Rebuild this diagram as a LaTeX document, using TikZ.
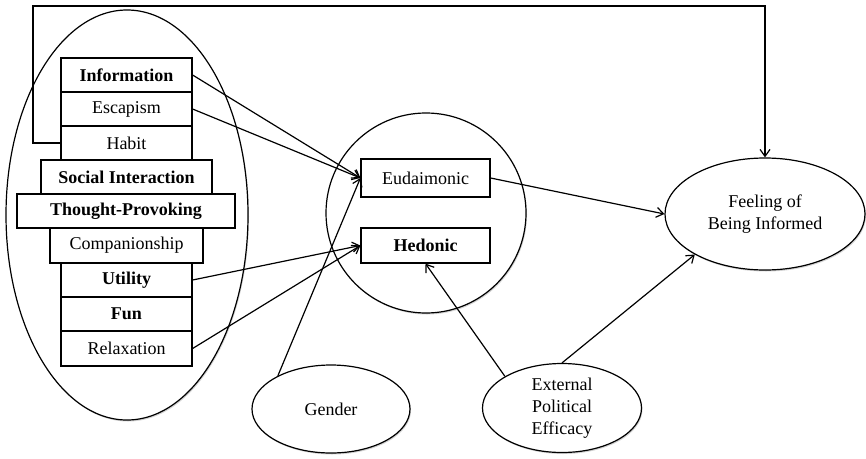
\documentclass[tikz,border=0pt]{standalone}
\usepackage{fontspec}
\setmainfont{Liberation Serif}
\usetikzlibrary{shapes.geometric,arrows.meta,shadows}
\begin{document}
\begin{tikzpicture}[x=1pt,y=-1pt,
  every node/.style={font=\fontsize{18}{22}\selectfont},
  box/.style={draw,line width=1.2pt,rectangle,fill=white,inner sep=0pt,minimum height=34pt},
  oval/.style={draw,line width=1.2pt,ellipse,fill=white,inner sep=0pt,align=center,
    drop shadow={shadow xshift=1pt,shadow yshift=-1.5pt,opacity=0.35}},
  link/.style={line width=1.2pt,-{Straight Barb[length=7pt,width=10pt]}},
]
\useasboundingbox (0,0) rectangle (866,458);

% outer group ellipse
\node[oval,minimum width=242pt,minimum height=410pt] (group) at (127,215) {};

% gratification boxes
\node[box,minimum width=131pt] (info)    at (126.5,75)    {\bfseries Information};
\node[box,minimum width=131pt] (esc)     at (126.5,109)   {Escapism};
\node[box,minimum width=131pt] (habit)   at (126.5,143)   {Habit};
\node[box,minimum width=171pt] (social)  at (126.5,177)   {\bfseries Social Interaction};
\node[box,minimum width=218pt] (thought) at (126,211)     {\bfseries Thought-Provoking};
\node[box,minimum width=153pt,minimum height=35pt] (comp) at (126.5,245.5) {Companionship};
\node[box,minimum width=131pt] (util)    at (126.5,280)   {\bfseries Utility};
\node[box,minimum width=131pt] (fun)     at (126.5,314)   {\bfseries Fun};
\node[box,minimum width=131pt,minimum height=35pt] (relax) at (126.5,348.5) {Relaxation};

% middle circle
\node[oval,circle,minimum size=200pt] (circ) at (426,213) {};
\node[box,minimum width=129pt,minimum height=38pt] (eud) at (425.5,178)   {Eudaimonic};
\node[box,minimum width=129pt,minimum height=35pt] (hed) at (425.5,245.5) {\bfseries Hedonic};

% outcome and covariates
\node[oval,minimum width=200pt,minimum height=112pt] (feel)   at (765,214) {Feeling of\\Being Informed};
\node[oval,minimum width=158pt,minimum height=88pt]  (gender) at (331,409) {Gender};
\node[oval,minimum width=159pt,minimum height=89pt]  (epe)    at (562,408) {External\\Political\\Efficacy};

% connectors
\draw[link] (info.east) -- (eud.west);
\draw[link] (esc.east) -- (eud.west);
\draw[link] (gender.148) -- (eud.west);
\draw[link] (util.east) -- (hed.west);
\draw[link] (relax.east) -- (hed.west);
\draw[link] (eud.east) -- (feel.west);
\draw[link] (epe.151) -- (hed.south);
\draw[link] (epe.north) -- (feel.210);

\coordinate (c1) at (33,143);
\coordinate (c2) at (33,6);
\draw[link] (habit.west) -- (c1) -- (c2) -| (feel.north);
\end{tikzpicture}
\end{document}
